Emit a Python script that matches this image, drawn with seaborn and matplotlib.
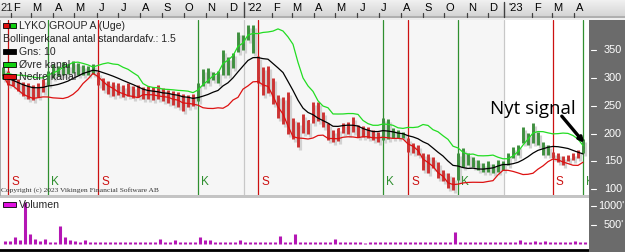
import numpy as np
import pandas as pd
import matplotlib
matplotlib.use("Agg")
import matplotlib.pyplot as plt
import matplotlib.dates as mdates
import matplotlib.transforms as mtrans
from matplotlib.patches import Rectangle, FancyArrowPatch
import seaborn as sns

# ---------------- data ----------------
start_date = "2021-01-29"
highs = [320, 312, 305, 298, 292, 290, 288, 290, 298,
         312, 325, 322, 328, 325, 330, 326, 324, 322, 325,
         310, 300, 295, 292, 290, 288, 290, 286, 287, 284,
         286, 283, 288, 282, 278, 276, 274, 272, 270, 272,
         290, 316, 318, 310, 312, 350, 337, 344, 382, 377,
         395, 395,
         340, 320, 322, 300, 270, 266, 275, 228, 220,
         236, 224, 257, 257, 239, 219, 206, 210, 219, 221,
         230, 215, 214, 212, 206, 203,
         228, 226, 210, 206, 203,
         192, 183, 180, 165, 163, 158, 149, 135, 129, 122,
         165, 174, 165, 158, 152, 147, 150, 145, 152, 150,
         165, 176, 180, 212, 201, 219, 203, 185, 180,
         167, 165, 160, 162, 165, 170,
         191]
lows = [298, 288, 285, 276, 268, 262, 260, 266, 275,
        288, 300, 303, 305, 307, 308, 306, 306, 305, 307,
        288, 278, 272, 268, 270, 266, 268, 264, 265, 262,
        263, 260, 262, 258, 255, 252, 248, 240, 248, 250,
        258, 285, 290, 297, 290, 305, 305, 318, 346, 350,
        368, 344,
        290, 270, 273, 254, 228, 218, 200, 190, 176,
        201, 200, 219, 222, 212, 188, 185, 186, 201, 200,
        203, 194, 194, 192, 188, 185,
        188, 190, 192, 192, 192,
        167, 165, 162, 135, 129, 138, 120, 115, 102, 99,
        117, 140, 144, 140, 134, 131, 131, 129, 131, 134,
        144, 156, 161, 183, 180, 183, 180, 161, 161,
        156, 149, 144, 150, 153, 156,
        165]
closes = [305, 292, 290, 280, 272, 270, 268, 282, 288,
          308, 315, 310, 318, 312, 320, 312, 315, 310, 318,
          295, 285, 280, 285, 275, 280, 275, 278, 270, 276,
          270, 274, 268, 265, 268, 258, 262, 250, 262, 256,
          284, 300, 298, 305, 300, 340, 318, 338, 370, 360,
          385, 350,
          300, 285, 290, 262, 240, 255, 210, 198, 210,
          208, 222, 245, 228, 218, 195, 198, 208, 212, 218,
          206, 208, 200, 198, 194, 195,
          215, 200, 198, 196, 195,
          172, 178, 165, 140, 155, 142, 125, 130, 105, 118,
          160, 150, 150, 145, 140, 140, 135, 142, 138, 145,
          160, 165, 175, 190, 195, 205, 185, 170, 165,
          160, 155, 150, 158, 156, 162,
          175]
volume_k = [80, 80, 180, 100, 1100, 260, 130, 80, 130, 55,
            50, 470, 180, 100, 80, 50, 100, 55, 50, 60,
            45, 50, 55, 50, 45, 50, 60, 50, 45, 55,
            50, 130, 55, 50, 100, 55, 50, 45, 60, 180,
            100, 100, 55, 50, 60, 50, 55, 100, 50, 45,
            55, 60, 50, 55, 50, 210, 55, 60, 260, 60,
            50, 45, 55, 50, 60, 50, 130, 55, 50, 45,
            50, 55, 35, 50, 45, 55, 50, 45, 50, 55,
            45, 50, 45, 50, 40, 50, 45, 50, 55, 50,
            320, 55, 50, 45, 50, 55, 45, 50, 45, 50,
            55, 50, 45, 100, 50, 55, 70, 50, 70, 50,
            55, 50, 45, 55, 70, 50, 45]
signal_idx = [1, 9, 19, 39, 51, 76, 81, 91, 110, 116]
signal_type = ["S", "K", "S", "K", "S", "K", "S", "K", "S", "K"]
month_letters = ["J", "F", "M", "A", "M", "J", "J", "A", "S", "O", "N", "D"]
price_ticks = [100, 150, 200, 250, 300, 350]
vol_ticks = [500, 1000]
vol_tick_labels = ["500'", "1000'"]

n = len(highs)
dates = pd.date_range(start_date, periods=n, freq="7D")
df = pd.DataFrame({"date": dates, "high": highs, "low": lows,
                   "close": closes, "vol": volume_k})
roll = df["close"].rolling(10, min_periods=1)
df["mid"] = roll.mean()
sd = roll.std(ddof=0).fillna(0)
df["upper"] = df["mid"] + 1.5 * sd
df["lower"] = df["mid"] - 1.5 * sd

state = []
cur = "K"
sig_map = dict(zip(signal_idx, signal_type))
for i in range(n):
    if i in sig_map:
        cur = sig_map[i]
    state.append(cur)
GREEN_BAR = "#3f8f3f"
RED_BAR = "#cc3333"
df["color"] = [GREEN_BAR if s == "K" else RED_BAR for s in state]

# ---------------- figure ----------------
sns.set_theme(style="white")
plt.rcParams["font.family"] = ["Liberation Sans", "DejaVu Sans"]
W, H = 625, 252
fig = plt.figure(figsize=(W / 100, H / 100), dpi=100, facecolor="#c4c4c4")
PX = mtrans.Affine2D().scale(1 / W, -1 / H).translate(0, 1) + fig.transFigure


def add_ax(x0, y0, x1, y1):
    return fig.add_axes([x0 / W, 1 - y1 / H, (x1 - x0) / W, (y1 - y0) / H])


jan1 = mdates.date2num(pd.Timestamp("2021-01-01"))
ppd = 5 / 7  # pixels per day
x_left = jan1 + 17 / ppd
x_right = jan1 + (589 + 17) / ppd

ax = add_ax(0, 20, 589, 195)
axv = add_ax(0, 198, 589, 250)
axr = add_ax(589, 19, 625, 252)
axt = add_ax(0, 0, 625, 20)

# ---- main price axes ----
ax.set_facecolor("#f6f6f6")
ax.set_xlim(x_left, x_right)
ax.set_ylim(89.8, 404)
ax.axvspan(mdates.date2num(pd.Timestamp("2023-01-01")), x_right, color="white", zorder=0)
for y in ["2022-01-01", "2023-01-01"]:
    ax.axvline(mdates.date2num(pd.Timestamp(y)), color="#c8c8c8", lw=0.9, zorder=1)

xd = mdates.date2num(df["date"])
sig_x = [xd[i] for i in signal_idx]
blend = mtrans.blended_transform_factory(ax.transData, ax.transAxes)
for xs, t in zip(sig_x, signal_type):
    c = "#cc1111" if t == "S" else "#2f8f2f"
    ax.axvline(xs, color=c, lw=0.9, zorder=2)
    ax.text(xs, 0.075, t, color=c, fontsize=8.5, ha="left", va="center",
            transform=mtrans.offset_copy(blend, fig=fig, x=3, y=0, units="dots"),
            zorder=3)

shadow = mtrans.offset_copy(ax.transData, fig=fig, x=2, y=-3, units="dots")
ax.vlines(xd, df["low"], df["high"], color="#d2d2d2", lw=2.3, transform=shadow, zorder=3)
ax.vlines(xd, df["low"], df["high"], color=df["color"], lw=2.1, zorder=4)
ax.hlines(df["close"], xd, xd + 2.8, color=df["color"], lw=1.4, zorder=4)

sns.lineplot(x=xd, y=df["upper"], ax=ax, color="#22dd22", lw=0.9, zorder=5)
sns.lineplot(x=xd, y=df["mid"], ax=ax, color="black", lw=0.9, zorder=5)
sns.lineplot(x=xd, y=df["lower"], ax=ax, color="#dd1111", lw=0.9, zorder=5)
ax.set_xlim(x_left, x_right)
ax.set_ylim(89.8, 404)
ax.set_xticks([]); ax.set_yticks([])
ax.set_xlabel(""); ax.set_ylabel("")
for s in ax.spines.values():
    s.set_visible(False)
ax.spines["left"].set_visible(True)
ax.spines["left"].set_color("#a0a0a0")

# ---- volume axes ----
axv.set_facecolor("white")
axv.set_xlim(x_left, x_right)
axv.set_ylim(-158, 1210)
axv.vlines(xd + 2.5, 0, df["vol"], color="#b416b4", lw=2.2)
axv.set_xticks([]); axv.set_yticks([])
for s in axv.spines.values():
    s.set_visible(False)
axv.spines["bottom"].set_visible(True)
axv.spines["bottom"].set_color("black")
axv.spines["bottom"].set_linewidth(2)

# ---- right panel ----
axr.set_facecolor("#6b6b6b")
axr.set_xticks([]); axr.set_yticks([])
for s in axr.spines.values():
    s.set_visible(False)


def price_to_py(v):
    return 189.3 - (v - 100) / 1.795


def vol_to_py(v):
    return 244 - v * 38 / 1000


for v in price_ticks:
    py = price_to_py(v)
    fig.add_artist(plt.Line2D([591, 596], [py, py], color="white", lw=0.8, transform=PX))
    fig.text(622, py, str(v), color="white", fontsize=7.8, ha="right", va="center", transform=PX)
for v, lab in zip(vol_ticks, vol_tick_labels):
    py = vol_to_py(v)
    fig.add_artist(plt.Line2D([591, 596], [py, py], color="white", lw=0.8, transform=PX))
    fig.text(624, py, lab, color="white", fontsize=7.8, ha="right", va="center", transform=PX)

# ---- top strip ----
grad = np.linspace(0, 1, 20).reshape(-1, 1)
axt.imshow(grad, aspect="auto", cmap=matplotlib.colors.LinearSegmentedColormap.from_list(
    "g", ["#f0f0f0", "#cfcfcf"]), extent=(0, 1, 0, 1), transform=axt.transAxes)
axt.set_xlim(x_left, x_left + 625 / ppd)
axt.set_ylim(20, 0)
axt.set_xticks([]); axt.set_yticks([])
for s in axt.spines.values():
    s.set_visible(False)
axt.axhline(17.5, color="#a8a8a8", lw=1.2)
axt.axhline(19.3, color="#f4f4f4", lw=1.2)
months = pd.date_range("2021-01-01", "2023-04-01", freq="MS")
for m in months:
    mx = mdates.date2num(m)
    if m.month == 1:
        lab = "'" + str(m.year)[2:]
        axt.plot([mx, mx], [2, 17], color="#404040", lw=1.0)
    else:
        lab = month_letters[m.month - 1]
        axt.plot([mx + 8, mx + 8], [13.5, 17], color="#404040", lw=0.9)
    if m.year == 2021 and m.month == 1:
        fig.text(0, 8, "21", fontsize=8, ha="left", va="center", transform=PX)
    else:
        axt.text(mx + 15.5, 8, lab, fontsize=8, ha="center", va="center", color="black")

# ---- legend / annotations ----
def box(x, y, w, h, c):
    fig.add_artist(Rectangle((x, y), w, h, facecolor=c, edgecolor="black", lw=0.6, transform=PX))


box(3, 22.5, 6, 5.5, "#e01010")
box(10, 22.5, 6, 5.5, "#10d010")
fig.text(19, 26, "LYKO GROUP A (Uge)", fontsize=7.6, va="center", transform=PX)
fig.text(3, 39, "Bollingerkanal antal standardafv.: 1.5", fontsize=7.6, va="center", transform=PX)
box(3, 48.5, 13, 5.5, "black")
fig.text(19, 52, "Gns: 10", fontsize=7.6, va="center", transform=PX)
box(3, 61.5, 13, 5.5, "#10d010")
fig.text(19, 64.5, "Øvre kanal", fontsize=7.6, va="center", transform=PX)
box(3, 73.5, 13, 5.5, "#e01010")
fig.text(19, 77, "Nedre kanal", fontsize=7.6, va="center", transform=PX)
fig.text(1, 190.5, "Copyright (c) 2023 Vikingen Financial Software AB", fontsize=5.4,
         family=["Liberation Serif", "DejaVu Serif"], color="#333333", va="center", transform=PX)

box(3, 201.5, 13, 5.5, "#e010e0")
fig.text(19, 204.5, "Volumen", fontsize=7.6, va="center", transform=PX)

fig.text(533, 109, "Nyt signal", fontsize=13.5, ha="center", va="center", color="black",
         family=["Open Sans", "Liberation Sans"], transform=PX)
fig.add_artist(FancyArrowPatch((560, 114), (586, 145), arrowstyle="-|>", mutation_scale=7,
                               color="black", lw=2.4, transform=PX))

fig.savefig("out.png", dpi=100, facecolor=fig.get_facecolor())
